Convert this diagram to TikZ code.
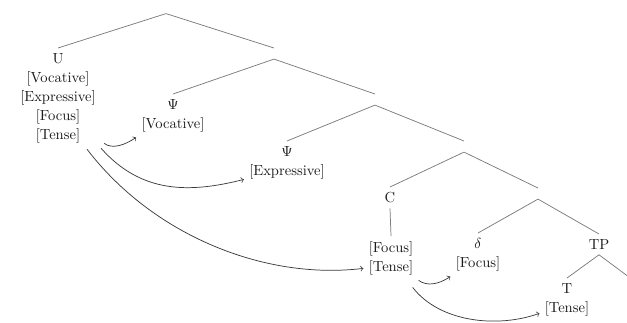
\documentclass[tikz,border=0pt]{standalone}
\usetikzlibrary{calc}
\definecolor{tInk}{HTML}{1A1A1A}
\definecolor{tBranch}{HTML}{7A7A7A}
\definecolor{tMove}{HTML}{3A3A3A}

\begin{document}
\begin{tikzpicture}[
  x=0.685pt, y=-0.685pt,
  font=\fontsize{10}{13}\selectfont, text=tInk,
  branch/.style={draw=tBranch, line width=0.5pt},
  move/.style={->, draw=tMove, line width=0.5pt},
  hub/.style={inner sep=0pt, minimum width=0pt, minimum height=7.2pt, anchor=north},
  feat/.style={align=center, inner sep=3.5pt, anchor=north},
]
\useasboundingbox (0,0) rectangle (627,322);
\clip (0,0) rectangle (627,322);

% empty branching points
\node[hub] (h0) at (166,2.5) {};
\node[hub] (h1) at (274,48) {};
\node[hub] (h2) at (375,94) {};
\node[hub] (h3) at (464,141) {};
\node[hub] (h4) at (538,188) {};

% labelled nodes
\node[feat] (U) at (58,48) {U\\{[Vocative]}\\{[Expressive]}\\{[Focus]}\\{[Tense]}};
\node[feat] (psi1) at (173,94) {$\Psi$\\{[Vocative]}};
\node[feat] (psi2) at (287,141) {$\Psi$\\{[Expressive]}};
\node[feat] (C) at (390,187) {C};
\node[feat] (ft) at (391,236) {{[Focus]}\\{[Tense]}};
\node[feat] (delta) at (478,233) {$\delta$\\{[Focus]}};
\node[feat] (TP) at (599,234) {TP};
\node[feat] (T) at (567,278) {T\\{[Tense]}};
\coordinate (tpR) at (645,289);

% tree skeleton
\draw[branch] (h0.south) -- (U.north);
\draw[branch] (h0.south) -- (h1.north);
\draw[branch] (h1.south) -- (psi1.north);
\draw[branch] (h1.south) -- (h2.north);
\draw[branch] (h2.south) -- (psi2.north);
\draw[branch] (h2.south) -- (h3.north);
\draw[branch] (h3.south) -- (C.north);
\draw[branch] (h3.south) -- (h4.north);
\draw[branch] (C.south) -- (ft.north);
\draw[branch] (h4.south) -- (delta.north);
\draw[branch] (h4.south) -- (TP.north);
\draw[branch] (TP.south) -- (T.north);
\draw[branch] (TP.south) -- (tpR);

% feature movement
\draw[move] ($(U.south east)+(3,-5)$) .. controls +(8,6) and +(-12,8) .. (psi1.south west);
\draw[move] (U.south east) .. controls +(40,45) and +(-55,14) .. ($(psi2.south west)+(0,-5)$);
\draw[move] ($(U.south east)+(-14,1)$) .. controls +(65,85) and +(-100,12) .. ($(ft.south west)+(0,-12)$);
\draw[move] (ft.south east) .. controls +(8,6) and +(-12,8) .. (delta.south west);
\draw[move] ($(ft.south east)+(-6,7)$) .. controls +(27,35) and +(-42,15) .. ($(T.south west)+(0,-8)$);

\end{tikzpicture}
\end{document}
